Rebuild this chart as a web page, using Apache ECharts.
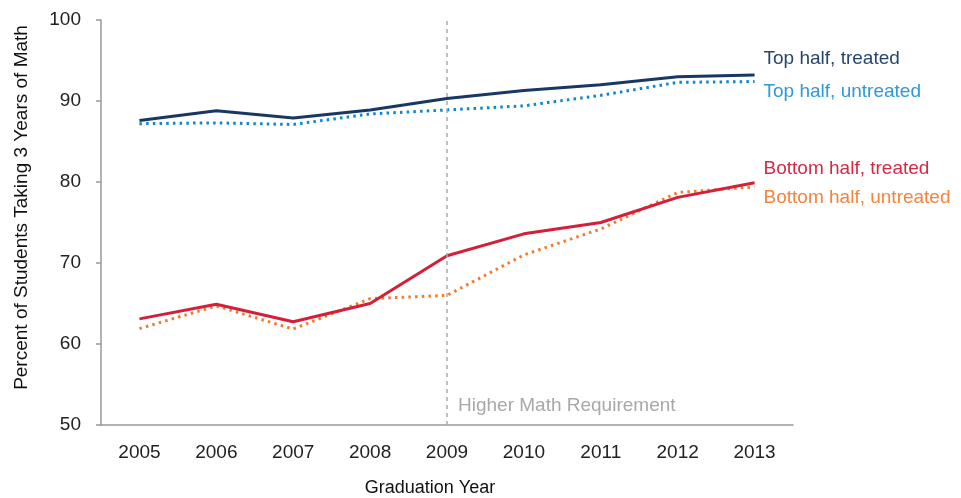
<html>
<head>
<meta charset="utf-8"/>
<title>Math requirement</title>
<script src="https://cdn.jsdelivr.net/npm/echarts@6/dist/echarts.min.js"></script>
<style>
  body { margin: 0; padding: 0; background: #fff; }
  #chart { width: 961px; height: 498px; }
</style>
</head>
<body>
<div id="chart"></div>
<script type="text/javascript">
// graduation years
let years = ['2005', '2006', '2007', '2008', '2009', '2010', '2011', '2012', '2013'];

// percent taking 3 years of math
let topTreated = [87.6, 88.8, 87.9, 88.9, 90.3, 91.3, 92.0, 93.0, 93.2];
let topUntreated = [87.2, 87.3, 87.1, 88.4, 88.9, 89.4, 90.7, 92.3, 92.4];
let bottomTreated = [63.1, 64.9, 62.75, 65.0, 70.9, 73.6, 75.0, 78.1, 79.9];
let bottomUntreated = [61.9, 64.7, 61.85, 65.6, 66.0, 71.0, 74.2, 78.7, 79.4];

let chart = echarts.init(document.getElementById('chart'));
let font = 'Liberation Sans, Helvetica, Arial, sans-serif';
let fs = 19;

function lineSeries(name, data, color, dotted, labelColor, dy) {
  return {
    name: name,
    type: 'line',
    data: data,
    symbol: 'none',
    z: dotted ? 2 : 3,
    lineStyle: {
      color: color,
      width: 3,
      type: dotted ? [2.5, 4.2] : 'solid'
    },
    endLabel: {
      show: true,
      formatter: name,
      color: labelColor,
      fontFamily: font,
      fontSize: fs,
      offset: [1, dy]
    }
  };
}

let series = [
  lineSeries('Top half, untreated', topUntreated, '#0b86cf', true, '#2d99d7', 10),
  lineSeries('Bottom half, untreated', bottomUntreated, '#f27a28', true, '#f4843a', 11),
  lineSeries('Bottom half, treated', bottomTreated, '#d41f3a', false, '#d42a44', -14),
  lineSeries('Top half, treated', topTreated, '#183863', false, '#27466f', -16)
];

// vertical marker for the policy year
series[0].markLine = {
  silent: true,
  symbol: 'none',
  lineStyle: { color: '#aaaaaa', width: 1.5, type: [4, 4] },
  label: { show: false },
  data: [{ xAxis: '2009' }]
};
series[0].markPoint = {
  silent: true,
  symbol: 'circle',
  symbolSize: 0,
  label: {
    show: true,
    position: 'right',
    distance: 11,
    formatter: 'Higher Math Requirement',
    color: '#a8a8a8',
    fontFamily: font,
    fontSize: fs
  },
  data: [{ coord: ['2009', 52.35] }]
};

chart.setOption({
  animation: false,
  grid: { left: 101, right: 168, top: 20, bottom: 73, containLabel: false, outerBoundsMode: 'none' },
  xAxis: {
    type: 'category',
    data: years,
    boundaryGap: true,
    name: 'Graduation Year',
    nameLocation: 'middle',
    nameGap: 54,
    nameTextStyle: { color: '#111', fontFamily: font, fontSize: 18, padding: [0, 34, 0, 0] },
    axisLine: { lineStyle: { color: '#999', width: 1.5 } },
    axisTick: { show: false },
    axisLabel: { color: '#222', fontFamily: font, fontSize: fs, margin: 18 },
    splitLine: { show: false }
  },
  yAxis: {
    type: 'value',
    min: 50,
    max: 100,
    interval: 10,
    name: 'Percent of Students Taking 3 Years of Math',
    nameLocation: 'middle',
    nameGap: 70,
    nameTextStyle: { color: '#111', fontFamily: font, fontSize: 19, padding: [0, 0, 0, 30] },
    axisLine: { show: true, lineStyle: { color: '#999', width: 1.5 } },
    axisTick: { show: true, length: 5, lineStyle: { color: '#999', width: 1.5 } },
    axisLabel: { color: '#222', fontFamily: font, fontSize: fs, margin: 20 },
    splitLine: { show: false }
  },
  series: series
});
</script>
</body>
</html>
